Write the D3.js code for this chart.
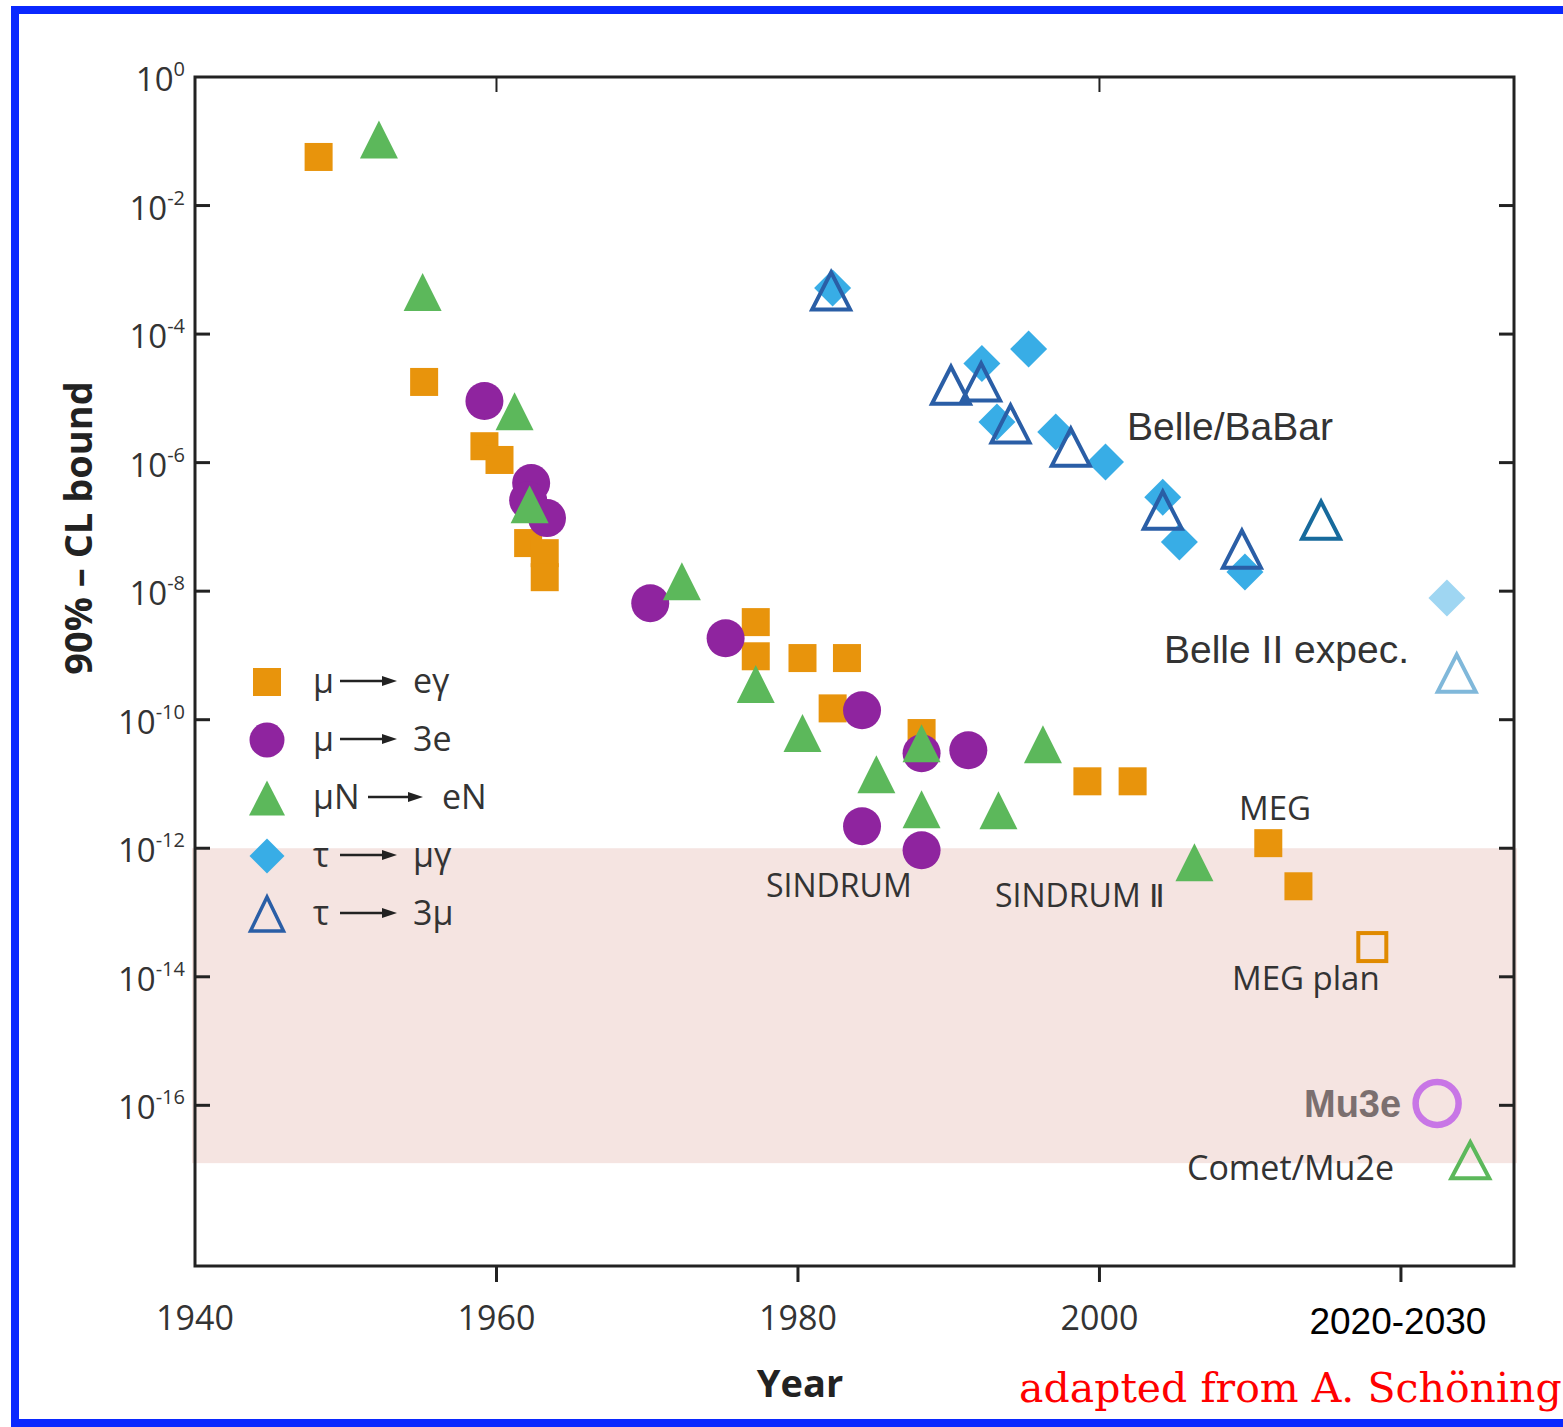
<!DOCTYPE html>
<html>
<head>
<meta charset="utf-8">
<script src="https://cdn.jsdelivr.net/npm/d3@7"></script>
<style>
  body { margin: 0; background: #fff; }
  svg { display: block; }
</style>
</head>
<body>
<div id="chart"></div>
<script>
(function() {
  "use strict";

  // ---- data: [year, 90% CL upper limit] ----
  var muEGamma = [
    [1948.2, 5.7e-2], [1955.2, 1.8e-5], [1959.2, 1.8e-6], [1960.2, 1.1e-6],
    [1962.1, 5.6e-8], [1963.2, 3.9e-8], [1963.2, 1.65e-8], [1977.2, 3.3e-9],
    [1977.2, 9.7e-10], [1980.3, 9.1e-10], [1983.25, 9.1e-10], [1982.3, 1.5e-10],
    [1988.2, 6.2e-11], [1999.2, 1.1e-11], [2002.2, 1.1e-11], [2011.2, 1.2e-12],
    [2013.2, 2.56e-13]
  ];
  var muEGammaPlan = [[2018.1, 2.9e-14]];

  var mu3e = [
    [1959.2, 9.1e-6], [1962.3, 4.8e-7], [1962.1, 2.6e-7], [1963.35, 1.37e-7],
    [1970.2, 6.5e-9], [1975.2, 1.85e-9], [1984.25, 1.4e-10], [1988.2, 3.0e-11],
    [1991.3, 3.35e-11], [1984.25, 2.2e-12], [1988.2, 9.3e-13]
  ];
  var mu3ePlan = [[2022.4, 1.07e-16]];

  var muNeN = [
    [1952.2, 1.07e-1], [1955.1, 4.5e-4], [1961.2, 6.3e-6], [1962.2, 2.26e-7],
    [1972.3, 1.43e-8], [1977.2, 3.6e-10], [1980.3, 6.2e-11], [1988.2, 4.3e-11],
    [1985.2, 1.42e-11], [1988.2, 4.05e-12], [1993.3, 3.9e-12], [1996.25, 4.16e-11],
    [2006.3, 6.05e-13]
  ];
  var muNeNPlan = [[2024.6, 1.4e-17]];

  var tauMuGamma = [
    [1982.3, 5.2e-4], [1992.2, 3.5e-5], [1995.3, 5.85e-5], [1993.2, 4.3e-6],
    [1997.1, 3.0e-6], [2000.4, 1.02e-6], [2004.2, 2.9e-7], [2005.3, 5.8e-8],
    [2009.65, 1.98e-8]
  ];
  var tauMuGammaBelle2 = [[2023.05, 7.8e-9]];

  var tau3mu = [
    [1982.2, 4.7e-4], [1990.15, 1.6e-5], [1992.15, 1.8e-5], [1994.1, 4.0e-6],
    [1998.1, 1.74e-6], [2004.2, 1.82e-7], [2009.45, 4.5e-8]
  ];
  var tau3muBaBar = [[2014.7, 1.27e-7]];
  var tau3muBelle2 = [[2023.7, 5.3e-10]];

  // sensitivity band of the next generation of experiments
  var targetBand = [1e-12, 1.26e-17];

  var yearTicks = [1940, 1960, 1980, 2000];
  var yearTopTicks = [1960, 2000];
  var futureTick = 2020;
  var futureLabel = "2020-2030";
  var decadeExponents = [0, -2, -4, -6, -8, -10, -12, -14, -16];

  var legendRows = [
    { shape: "square", from: "\u03bc", to: "e\u03b3" },
    { shape: "circle", from: "\u03bc", to: "3e" },
    { shape: "triangle", from: "\u03bcN", to: "eN", wide: true },
    { shape: "diamond", from: "\u03c4", to: "\u03bc\u03b3" },
    { shape: "openTriangle", from: "\u03c4", to: "3\u03bc" }
  ];

  // ---- colours ----
  var ORANGE = "#e8940c";
  var PURPLE = "#8f249f";
  var GREEN = "#5cb85b";
  var SKY = "#38ade6";
  var NAVY = "#2a5ea6";
  var FONT = "'Open Sans', 'DejaVu Sans', sans-serif";
  var ARIAL = "'Liberation Sans', Arial, sans-serif";

  var W = 1563, H = 1427;
  var plot = { left: 195, top: 77, right: 1514, bottom: 1266 };

  var svg = d3.select("#chart").append("svg")
      .attr("width", W)
      .attr("height", H);

  var x = d3.scaleLinear().domain([1940, 2027.5]).range([plot.left, plot.right]);
  var y = d3.scaleLog().domain([Math.pow(10, -18.5), 1]).range([plot.bottom, plot.top]);

  // blue frame round the picture
  svg.append("rect")
      .attr("x", 15).attr("y", 10)
      .attr("width", W + 20).attr("height", 1413)
      .attr("fill", "none")
      .attr("stroke", "#0a28ff")
      .attr("stroke-width", 8);

  // band
  svg.append("rect")
      .attr("x", plot.left - 3)
      .attr("y", y(targetBand[0]))
      .attr("width", plot.right - plot.left + 6)
      .attr("height", y(targetBand[1]) - y(targetBand[0]))
      .attr("fill", "#f5e4e1");

  drawAxes();
  drawLegend();

  // ---- markers (draw order follows the overlaps in the figure) ----
  drawSquares(muEGamma, ORANGE, true);
  drawSquares(muEGammaPlan, "#e08a00", false);
  drawCircles(mu3e, PURPLE);
  drawOpenCircle(mu3ePlan, "#c876e6");
  drawTriangles(muNeN, GREEN, null, 38, 38);
  drawTriangles(muNeNPlan, "none", GREEN, 38, 36);
  drawDiamonds(tauMuGamma, SKY);
  drawDiamonds(tauMuGammaBelle2, "#9fd6f2");
  drawTriangles(tau3mu, "none", NAVY, 38, 37);
  drawTriangles(tau3muBaBar, "none", "#176a9c", 38, 37);
  drawTriangles(tau3muBelle2, "none", "#80b8da", 38, 37);

  drawAnnotations();

  /**
   * Frame, ticks, tick labels and axis titles.
   */
  function drawAxes() {
    var axes = svg.append("g").attr("stroke", "#222").attr("stroke-width", 3);

    axes.append("rect")
        .attr("x", plot.left).attr("y", plot.top)
        .attr("width", plot.right - plot.left)
        .attr("height", plot.bottom - plot.top)
        .attr("fill", "none");

    decadeExponents.forEach(function(e) {
      var yy = y(Math.pow(10, e));
      if (e !== 0) {
        axes.append("line").attr("x1", plot.left).attr("x2", plot.left + 15)
            .attr("y1", yy).attr("y2", yy);
        axes.append("line").attr("x1", plot.right - 15).attr("x2", plot.right)
            .attr("y1", yy).attr("y2", yy);
      }
      var label = svg.append("text")
          .attr("x", 185).attr("y", yy + 14)
          .attr("text-anchor", "end")
          .attr("font-family", FONT)
          .attr("font-size", 33)
          .attr("fill", "#333")
          .text("10");
      label.append("tspan")
          .attr("dy", -15)
          .attr("font-size", 20)
          .text(e === 0 ? "0" : "-" + (-e));
    });

    yearTicks.concat([futureTick]).forEach(function(yr) {
      if (yr !== 1940) {
        axes.append("line").attr("x1", x(yr)).attr("x2", x(yr))
            .attr("y1", plot.bottom).attr("y2", plot.bottom + 16);
      }
    });
    yearTopTicks.forEach(function(yr) {
      axes.append("line").attr("x1", x(yr)).attr("x2", x(yr))
          .attr("y1", plot.top).attr("y2", plot.top + 15)
          .attr("stroke-width", 2);
    });

    yearTicks.forEach(function(yr) {
      svg.append("text")
          .attr("x", x(yr)).attr("y", 1330)
          .attr("text-anchor", "middle")
          .attr("font-family", FONT)
          .attr("font-size", 34)
          .attr("fill", "#333")
          .text(yr);
    });
    svg.append("text")
        .attr("x", x(futureTick) - 3).attr("y", 1334)
        .attr("text-anchor", "middle")
        .attr("font-family", ARIAL)
        .attr("font-size", 37)
        .attr("fill", "#000")
        .text(futureLabel);

    svg.append("text")
        .attr("x", 800).attr("y", 1397)
        .attr("text-anchor", "middle")
        .attr("font-family", FONT)
        .attr("font-weight", "bold")
        .attr("font-size", 38)
        .attr("fill", "#222")
        .text("Year");

    svg.append("text")
        .attr("transform", "translate(92,528) rotate(-90)")
        .attr("text-anchor", "middle")
        .attr("font-family", FONT)
        .attr("font-weight", "bold")
        .attr("font-size", 38)
        .attr("fill", "#222")
        .text("90% \u2013 CL bound");
  }

  function drawSquares(data, color, filled) {
    var s = 28;
    svg.append("g").selectAll("rect").data(data).enter().append("rect")
        .attr("x", function(d) { return x(d[0]) - s / 2; })
        .attr("y", function(d) { return y(d[1]) - s / 2; })
        .attr("width", s).attr("height", s)
        .attr("fill", filled ? color : "none")
        .attr("stroke", filled ? "none" : color)
        .attr("stroke-width", 4);
  }

  function drawCircles(data, color) {
    svg.append("g").selectAll("circle").data(data).enter().append("circle")
        .attr("cx", function(d) { return x(d[0]); })
        .attr("cy", function(d) { return y(d[1]); })
        .attr("r", 19)
        .attr("fill", color);
  }

  function drawOpenCircle(data, color) {
    svg.append("g").selectAll("circle").data(data).enter().append("circle")
        .attr("cx", function(d) { return x(d[0]); })
        .attr("cy", function(d) { return y(d[1]); })
        .attr("r", 21.5)
        .attr("fill", "none")
        .attr("stroke", color)
        .attr("stroke-width", 6.5);
  }

  // triangle centred on its bounding box
  function trianglePath(w, h) {
    return "M0," + (-h / 2) + "L" + (w / 2) + "," + (h / 2) + "L" + (-w / 2) + "," + (h / 2) + "Z";
  }

  function drawTriangles(data, fill, stroke, w, h) {
    svg.append("g").selectAll("path").data(data).enter().append("path")
        .attr("transform", function(d) { return "translate(" + x(d[0]) + "," + y(d[1]) + ")"; })
        .attr("d", trianglePath(w, h))
        .attr("fill", fill)
        .attr("stroke", stroke || "none")
        .attr("stroke-width", stroke ? 4 : 0)
        .attr("stroke-linejoin", "miter");
  }

  function drawDiamonds(data, color) {
    var r = 18.5;
    svg.append("g").selectAll("path").data(data).enter().append("path")
        .attr("transform", function(d) { return "translate(" + x(d[0]) + "," + y(d[1]) + ")"; })
        .attr("d", "M0," + (-r) + "L" + r + ",0L0," + r + "L" + (-r) + ",0Z")
        .attr("fill", color);
  }

  /**
   * Legend in the lower left of the plot, each row a marker and a
   * "from -> to" decay written with an arrow.
   */
  function drawLegend() {
    var lg = svg.append("g");
    legendRows.forEach(function(row, i) {
      var cy = 682 + i * 58;
      var mx = 267;
      switch (row.shape) {
        case "square":
          lg.append("rect").attr("x", mx - 14).attr("y", cy - 14)
              .attr("width", 28).attr("height", 28).attr("fill", ORANGE);
          break;
        case "circle":
          lg.append("circle").attr("cx", mx).attr("cy", cy).attr("r", 17.5).attr("fill", PURPLE);
          break;
        case "triangle":
          lg.append("path").attr("transform", "translate(" + mx + "," + cy + ")")
              .attr("d", trianglePath(36, 35)).attr("fill", GREEN);
          break;
        case "diamond":
          lg.append("path").attr("transform", "translate(" + mx + "," + cy + ")")
              .attr("d", "M0,-17.5L17.5,0L0,17.5L-17.5,0Z").attr("fill", SKY);
          break;
        case "openTriangle":
          lg.append("path").attr("transform", "translate(" + mx + "," + cy + ")")
              .attr("d", trianglePath(33, 34)).attr("fill", "none")
              .attr("stroke", NAVY).attr("stroke-width", 3.5);
          break;
      }

      var a0 = row.wide ? 368 : 340;
      var a1 = row.wide ? 423 : 397;
      var tx = row.wide ? 442 : 413;
      var ay = cy - 1;

      lg.append("text").attr("x", 313).attr("y", cy + 11)
          .attr("font-family", FONT).attr("font-size", 34).attr("fill", "#333")
          .text(row.from);
      lg.append("line").attr("x1", a0).attr("x2", a1 - 10)
          .attr("y1", ay).attr("y2", ay)
          .attr("stroke", "#222").attr("stroke-width", 2.5);
      lg.append("path")
          .attr("d", "M" + (a1 - 15) + "," + (ay - 5) + "L" + a1 + "," + ay + "L" + (a1 - 15) + "," + (ay + 5) + "Z")
          .attr("fill", "#222");
      lg.append("text").attr("x", tx).attr("y", cy + 11)
          .attr("font-family", FONT).attr("font-size", 34).attr("fill", "#333")
          .text(row.to);
    });
  }

  /**
   * Experiment names written next to the points.
   */
  function drawAnnotations() {
    var notes = [
      { text: "Belle/BaBar", x: 1127, y: 440, font: ARIAL, size: 39, color: "#333" },
      { text: "Belle II expec.", x: 1164, y: 663, font: ARIAL, size: 39, color: "#333" },
      { text: "SINDRUM", x: 766, y: 897, font: FONT, size: 32, color: "#333" },
      { text: "SINDRUM \u2161", x: 995, y: 907, font: FONT, size: 32, color: "#333" },
      { text: "MEG", x: 1239, y: 820, font: FONT, size: 33, color: "#333" },
      { text: "MEG plan", x: 1232, y: 990, font: FONT, size: 33, color: "#333" },
      { text: "Mu3e", x: 1304, y: 1117, font: ARIAL, size: 38, color: "#7b6f6f", bold: true },
      { text: "Comet/Mu2e", x: 1187, y: 1180, font: FONT, size: 34, color: "#333" },
      { text: "adapted from A. Sch\u00f6ning", x: 1019, y: 1402, font: "'DejaVu Serif', serif", size: 41, color: "#ff0000" }
    ];
    notes.forEach(function(n) {
      svg.append("text")
          .attr("x", n.x).attr("y", n.y)
          .attr("font-family", n.font)
          .attr("font-size", n.size)
          .attr("font-weight", n.bold ? "bold" : "normal")
          .attr("fill", n.color)
          .text(n.text);
    });
  }
})();
</script>
</body>
</html>
